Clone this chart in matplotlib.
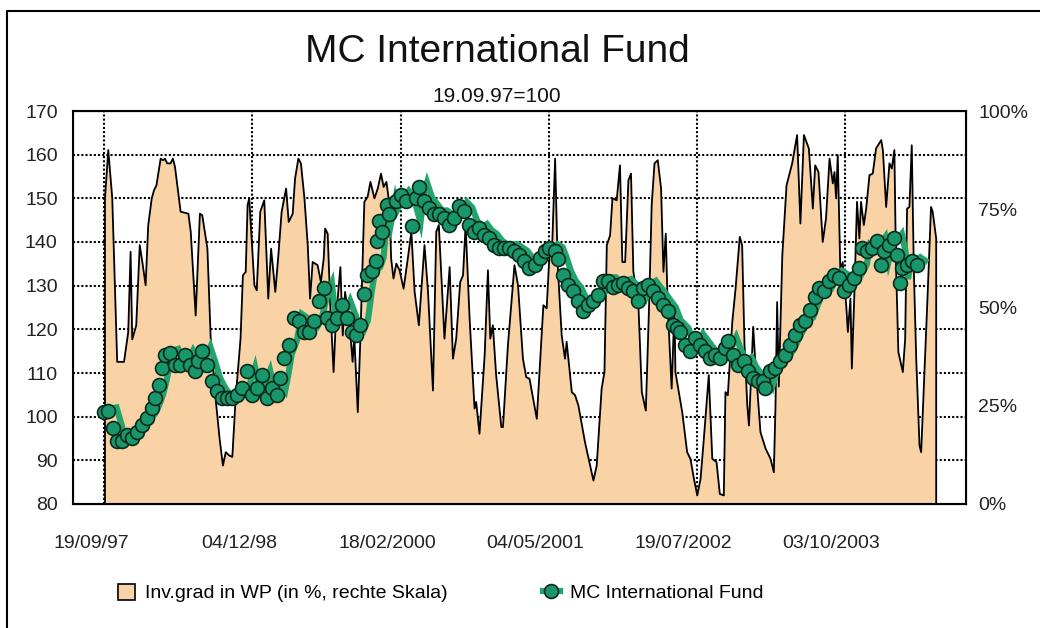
import numpy as np
import pandas as pd
import matplotlib
matplotlib.use("Agg")
import matplotlib.pyplot as plt
import matplotlib.transforms as mtransforms
from matplotlib.patches import Patch
from matplotlib.lines import Line2D
from matplotlib.ticker import PercentFormatter

plt.rcParams['font.family'] = ['Liberation Sans', 'DejaVu Sans']

START = pd.Timestamp('1997-09-19')

# Investitionsgrad (weeks since start, % of assets in securities)
inv_week = [0.0, 1.4, 3.1, 5.2, 8.1, 9.9, 10.9, 11.6, 13.3, 14.8, 15.9, 17.3, 18.4, 19.9,
            20.9, 21.9, 23.7, 24.7, 25.5, 26.5, 27.9, 28.9, 29.8, 32.2, 35.5, 36.5, 38.6,
            40.4, 41.4, 43.6, 45.0, 47.1, 48.8, 50.2, 51.4, 52.8, 54.2, 55.6, 57.7, 58.7,
            59.9, 60.7, 61.4, 63.6, 64.6, 66.1, 67.8, 69.5, 70.7, 72.5, 73.8, 75.2, 77.1,
            78.2, 79.9, 80.9, 82.3, 83.4, 84.9, 86.3, 87.3, 88.4, 90.5, 91.9, 93.1, 93.7,
            94.8, 95.9, 97.3, 98.3, 100.2, 101.2, 102.2, 104.0, 105.4, 106.1, 107.6, 108.7,
            110.4, 111.8, 113.0, 114.7, 116.1, 117.5, 118.6, 119.8, 121.1, 121.8, 122.8,
            124.0, 125.4, 127.1, 128.9, 130.4, 131.8, 133.6, 136.0, 137.5, 139.6, 141.0,
            142.1, 143.8, 144.5, 146.7, 148.1, 149.5, 151.2, 152.4, 153.5, 155.2, 157.3,
            158.0, 159.4, 161.6, 163.0, 164.0, 165.1, 166.5, 168.7, 169.4, 171.5, 174.3,
            175.8, 177.9, 179.3, 180.7, 183.8, 186.6, 188.0, 189.4, 190.4, 191.6, 192.7,
            194.4, 195.8, 196.5, 198.7, 200.1, 201.5, 204.3, 207.9, 209.3, 211.4, 212.6,
            213.6, 215.0, 216.0, 217.8, 219.2, 220.2, 221.4, 222.8, 223.9, 224.9, 227.0,
            228.5, 230.2, 231.6, 232.7, 233.9, 235.3, 236.7, 237.7, 238.7, 239.5, 241.2,
            242.4, 242.8, 245.7, 247.8, 249.2, 250.7, 252.1, 253.5, 254.9, 257.0, 258.5,
            260.3, 261.7, 263.4, 264.1, 265.1, 267.0, 268.4, 270.2, 271.2, 272.2, 273.4,
            274.1, 275.1, 275.9, 276.9, 279.0, 281.2, 283.3, 284.7, 285.4, 286.1, 286.8,
            288.3, 290.1, 292.5, 294.6, 296.0, 297.5, 299.6, 301.3, 302.3, 303.7, 305.5,
            306.9, 308.4, 309.8, 310.5, 311.2, 311.9, 313.0, 314.0, 315.5, 316.2, 317.3,
            317.9, 319.0, 320.1, 321.1, 321.8, 323.0, 324.0, 325.4, 326.8, 328.2, 330.4,
            331.1, 332.5, 333.9, 334.9, 336.0, 336.7, 337.7, 339.6, 340.6, 341.4, 342.4,
            343.4, 344.3, 345.3, 346.7, 347.4, 348.8, 350.2, 351.6, 352.3, 353.8]
inv_pct = [77.9, 90.2, 77.9, 36.3, 36.3, 43.9, 64.3, 42.0, 45.6, 66.0, 61.7, 55.8, 71.0, 77.9,
           80.0, 81.2, 88.0, 87.6, 88.0, 86.8, 86.8, 88.0, 85.9, 74.5, 74.0, 69.4, 48.1,
           74.0, 73.6, 65.1, 42.2, 26.9, 16.7, 9.9, 13.3, 12.5, 12.1, 26.9, 42.2, 58.3,
           59.2, 76.2, 77.9, 55.8, 54.5, 74.5, 77.4, 52.4, 65.1, 54.1, 63.4, 74.5, 80.4,
           71.9, 74.0, 82.9, 88.0, 86.8, 77.9, 66.0, 52.4, 61.7, 60.9, 56.6, 62.6, 70.2,
           68.9, 50.7, 33.7, 47.3, 60.4, 43.0, 54.1, 46.4, 36.3, 43.0, 23.5, 42.2,
           77.0, 78.3, 82.1, 77.9, 80.4, 84.2, 80.8, 82.1, 76.2, 62.6, 57.5,
           61.3, 59.6, 54.9, 62.6, 69.4, 54.1, 45.6, 66.0, 54.1, 29.0, 69.4,
           71.1, 50.7, 42.2, 60.4, 37.1, 42.2, 56.6, 58.3, 71.1, 47.3, 24.4,
           26.1, 18.0, 37.9, 59.6, 42.2, 45.6, 32.9, 19.7, 19.7, 40.4, 60.9,
           55.8, 37.1, 32.4, 32.0, 21.8, 50.7, 49.9, 66.0, 66.8, 88.0, 60.9,
           43.0, 37.1, 41.4, 28.6, 27.8, 25.2, 15.9, 6.1, 9.9, 29.5, 33.7,
           66.0, 68.5, 77.9, 77.4, 86.3, 61.7, 61.7, 82.5, 84.2, 59.2, 51.5,
           28.6, 23.9, 50.7, 76.2, 86.8, 87.6, 80.4, 59.2, 68.9, 50.7, 29.5,
           50.0, 33.7, 23.5, 13.3, 11.6, 6.5, 2.3, 6.5, 16.7, 32.9, 11.6,
           10.8, 2.7, 2.3, 28.6, 27.8, 46.4, 54.9, 68.1, 66.0, 40.8, 25.2,
           20.1, 33.7, 45.2, 35.4, 18.4, 14.2, 11.6, 8.2, 25.2, 51.5, 30.0,
           63.4, 81.2, 86.8, 94.0, 71.5, 94.0, 90.6, 75.3, 86.3, 84.6, 66.8,
           72.8, 88.0, 81.7, 84.6, 77.9, 88.9, 59.2, 61.7, 50.7, 43.9, 52.4,
           34.6, 54.1, 77.0, 67.7, 77.0, 71.1, 75.3, 83.8, 84.2, 90.6, 92.7,
           90.2, 75.7, 86.8, 85.5, 90.2, 60.9, 38.8, 33.7, 42.2, 75.3, 75.7,
           91.4, 59.2, 37.1, 15.0, 13.3, 33.7, 54.1, 75.7, 74.5, 67.7]

# MC International Fund, indexed 19.09.97 = 100
fund_week = [0, 1.7, 3.8, 5.2, 7.4, 9.5, 11.6, 13.8, 15.9, 18.0, 20.1, 21.6, 23.0, 24.4,
             25.8, 28.0, 30.1, 32.2, 34.3, 36.5, 38.6, 40.0, 41.7, 43.6, 45.7, 47.8, 49.9,
             52.1, 54.2, 56.3, 58.5, 60.7, 62.9, 65.0, 67.1, 69.3, 71.4, 73.5, 74.9, 76.3,
             78.5, 80.6, 82.7, 84.9, 87.0, 89.1, 91.2, 93.4, 94.8, 96.9, 99.0, 101.2, 103.3,
             105.4, 106.9, 108.7, 110.4, 111.8, 113.9, 115.4, 116.1, 116.8, 118.2, 120.3,
             121.1, 124.0, 126.1, 128.2, 131.1, 132.5, 133.9, 136.0, 138.2, 140.3, 142.4,
             144.5, 146.7, 148.8, 150.9, 153.1, 155.2, 157.3, 159.4, 161.6, 163.7, 165.8,
             167.9, 170.1, 172.2, 174.3, 176.5, 178.6, 180.7, 183.1, 185.2, 187.3, 189.4,
             191.6, 193.0, 195.1, 197.2, 199.4, 201.5, 203.6, 205.8, 207.9, 210.0, 212.1,
             214.3, 216.4, 218.5, 220.7, 222.8, 224.9, 227.0, 229.2, 231.3, 233.4, 235.6,
             237.7, 239.8, 241.9, 243.5, 245.0, 247.1, 249.2, 251.4, 253.5, 255.6, 257.7,
             259.9, 262.0, 264.1, 265.5, 267.7, 269.8, 272.0, 274.1, 276.2, 278.3, 280.4,
             281.2, 283.3, 285.4, 287.5, 289.7, 291.8, 293.9, 296.1, 298.2, 300.1, 302.4,
             304.1, 306.2, 308.4, 310.5, 312.6, 314.7, 316.9, 319.0, 321.1, 322.5, 324.7,
             326.8, 328.9, 330.4, 331.8, 333.9, 336.0, 337.5, 338.6, 339.6, 341.7, 343.8,
             346.0]
fund_val = [101.0, 101.2, 97.4, 94.4, 94.4, 95.9, 95.1, 96.6, 98.2, 99.7, 102.0, 104.3, 107.3,
            111.1, 114.2, 114.6, 111.9, 111.9, 114.2, 111.9, 110.4, 112.7, 115.0, 111.9,
            108.1, 105.8, 104.3, 104.3, 104.3, 105.0, 106.6, 110.4, 105.0, 106.6, 109.6,
            104.3, 106.6, 105.0, 108.9, 113.4, 116.5, 122.6, 121.8, 119.5, 119.5, 121.8,
            126.4, 129.5, 122.6, 121.1, 122.6, 125.6, 122.6, 119.5, 118.8, 121.1, 128.0,
            132.5, 133.3, 135.6, 140.2, 144.7, 142.4, 148.5, 146.3, 149.3, 150.8, 149.3,
            143.6, 150.1, 152.7, 149.3, 147.8, 146.3, 146.3, 145.5, 144.0, 145.5, 148.2,
            147.0, 144.0, 142.4, 143.2, 141.7, 140.9, 139.4, 138.6, 138.6, 138.6, 137.9,
            137.1, 135.6, 134.0, 134.8, 136.3, 137.9, 138.6, 137.9, 136.0, 132.5, 130.2,
            128.7, 126.4, 124.1, 125.6, 126.4, 127.9, 131.0, 131.0, 129.8, 130.2, 130.6,
            129.5, 128.7, 126.4, 129.5, 130.2, 128.7, 127.2, 125.6, 124.1, 121.1, 120.3,
            119.5, 116.5, 115.0, 118.0, 116.5, 115.0, 113.4, 114.2, 113.4, 115.7, 117.3,
            114.2, 111.9, 112.7, 110.4, 108.9, 108.1, 108.1, 106.6, 110.4, 111.1, 112.7,
            114.2, 116.5, 118.8, 121.1, 121.8, 124.5, 127.5, 129.5, 128.7, 131.0, 132.5,
            131.8, 128.7, 130.2, 131.8, 134.0, 138.6, 137.9, 138.6, 140.2, 134.8, 137.9,
            139.4, 140.9, 137.1, 130.6, 134.0, 134.8, 135.6, 134.8]

tick_dates = ['1997-09-19', '1998-12-04', '2000-02-18', '2001-05-04', '2002-07-19', '2003-10-03']
tick_labels = ['19/09/97', '04/12/98', '18/02/2000', '04/05/2001', '19/07/2002', '03/10/2003']

PEACH = '#F9D3A6'
GREEN = '#17976B'
SHADOW = '#22A46C'


def to_dates(weeks):
    return START + pd.to_timedelta(np.asarray(weeks) * 7, unit='D')


inv_x = to_dates(inv_week)
fund_x = to_dates(fund_week)

fig = plt.figure(figsize=(10.4, 6.28), dpi=100)
fig.patch.set_facecolor('white')

ax = fig.add_axes([73 / 1040, 1 - 504 / 628, (966 - 73) / 1040, (504 - 111) / 628])
ax2 = ax.twinx()
ax3 = ax.twinx()

# left scale + grid (bottom layer)
ax.set_ylim(80, 170)
ax.set_yticks(np.arange(80, 171, 10))
ax.set_xlim(START - pd.Timedelta(weeks=13.4), START + pd.Timedelta(weeks=366.7))
ax.set_xticks(pd.to_datetime(tick_dates))
ax.set_xticklabels(tick_labels)
ax.grid(True, color='black', linestyle=(0, (1, 1)), linewidth=1.5)
ax.tick_params(axis='x', length=0, pad=22, labelsize=14, colors='#222222')
ax.tick_params(axis='y', length=0, pad=11, labelsize=14, colors='#222222')
for lab in ax.get_xticklabels():
    lab.set_transform(lab.get_transform() +
                      mtransforms.ScaledTranslation(-0.13, 0, fig.dpi_scale_trans))

# investment ratio area on the right scale
ax2.fill_between(inv_x, inv_pct, 0, facecolor=PEACH, edgecolor='black', linewidth=1.3)
ax2.set_ylim(0, 100)
ax2.set_yticks([0, 25, 50, 75, 100])
ax2.yaxis.set_major_formatter(PercentFormatter(decimals=0))
ax2.tick_params(axis='y', length=0, pad=9, labelsize=14, colors='#222222')
for s in ax2.spines.values():
    s.set_linewidth(1.5)

# fund on top, same left scale
ax3.set_ylim(ax.get_ylim())
ax3.set_yticks([])
for s in ax3.spines.values():
    s.set_visible(False)
shadow_tr = mtransforms.offset_copy(ax3.transData, fig=fig, x=8, y=4, units='dots')
ax3.plot(fund_x, fund_val, color=SHADOW, linewidth=4.5, solid_joinstyle='miter',
         transform=shadow_tr)
ax3.plot(fund_x, fund_val, linestyle='none', marker='o', markersize=10,
         markerfacecolor=GREEN, markeredgecolor='#0c2a1c', markeredgewidth=1.2)

fig.text(0.478, 1 - 52 / 628, 'MC International Fund', ha='center', va='center',
         fontsize=28, color='#111111')
fig.text(0.478, 1 - 97 / 628, '19.09.97=100', ha='center', va='center',
         fontsize=15, color='#111111')

# outer frame (only left and top edges fall inside the picture)
fig.add_artist(Line2D([7 / 1040, 7 / 1040, 1.0], [0.0, 1 - 11 / 628, 1 - 11 / 628],
                      transform=fig.transFigure, color='black', linewidth=1.5))

h_area = Patch(facecolor=PEACH, edgecolor='black', linewidth=1.2)
h_fund = (Line2D([], [], color=SHADOW, linewidth=4.5),
          Line2D([], [], linestyle='none', marker='o', markersize=10,
                 markerfacecolor=GREEN, markeredgecolor='#0c2a1c', markeredgewidth=1.2))
fig.legend([h_area, h_fund],
           ['Inv.grad in WP (in %, rechte Skala)', 'MC International Fund'],
           loc='center left', bbox_to_anchor=(100 / 1040, 1 - 593 / 628), ncol=2,
           frameon=False, fontsize=14, handlelength=0.9, handleheight=0.9,
           handletextpad=0.5, columnspacing=4.9)

fig.savefig('out.png', dpi=100)
